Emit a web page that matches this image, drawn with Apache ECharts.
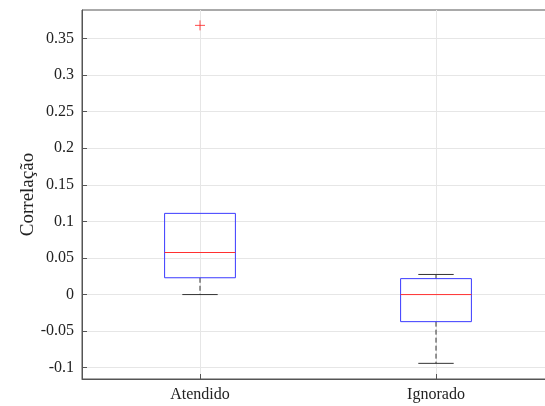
<!DOCTYPE html>
<html>
<head>
<meta charset="utf-8">
<script src="https://cdn.jsdelivr.net/npm/echarts@6/dist/echarts.min.js"></script>
<style>
  html, body { margin: 0; padding: 0; background: #fff; }
  #chart { width: 545px; height: 406px; }
</style>
</head>
<body>
<div id="chart"></div>
<script>
const categories = ['Atendido', 'Ignorado'];
// whisker ends, quartiles and medians
const lowerWhisker = [0, -0.094];
const q1 = [0.023, -0.037];
const median = [0.0575, 0];
const q3 = [0.111, 0.0218];
const upperWhisker = [0.111, 0.0275];
const outliers = [[0, 0.368]];
const yTicks = [-0.1, -0.05, 0, 0.05, 0.1, 0.15, 0.2, 0.25, 0.3, 0.35];

const boxData = categories.map((c, i) => [i, lowerWhisker[i], q1[i], median[i], q3[i], upperWhisker[i]]);

const chart = echarts.init(document.getElementById('chart'));
const font = '"Liberation Serif", "Times New Roman", serif';

chart.setOption({
    animation: false,
    grid: {
        left: 82, top: 10, width: 472, height: 369,
        outerBoundsMode: 'none',
        show: true, borderColor: '#555', borderWidth: 1
    },
    xAxis: {
        type: 'category',
        data: categories,
        boundaryGap: true,
        axisLine: { onZero: false, lineStyle: { color: '#555' } },
        axisTick: { show: true, inside: true, alignWithLabel: true, length: 5, lineStyle: { color: '#555' } },
        axisLabel: { color: '#222', fontFamily: font, fontSize: 16, margin: 8 },
        splitLine: { show: true, alignWithLabel: true, lineStyle: { color: '#e6e6e6' } }
    },
    yAxis: {
        type: 'value',
        min: -0.1154,
        max: 0.389,
        name: 'Correlação',
        nameLocation: 'middle',
        nameGap: 44,
        nameMoveOverlap: false,
        nameTextStyle: { color: '#222', fontFamily: font, fontSize: 19 },
        axisLine: { show: true, lineStyle: { color: '#555' } },
        axisTick: { show: true, inside: true, length: 5, customValues: yTicks, lineStyle: { color: '#555' } },
        axisLabel: { color: '#222', fontFamily: font, fontSize: 16, margin: 8, customValues: yTicks },
        splitLine: { show: true, customValues: yTicks, lineStyle: { color: '#e6e6e6' } }
    },
    series: [{
        type: 'custom',
        data: boxData,
        renderItem: (params, api) => {
            const idx = api.value(0);
            const band = api.size([1, 0])[0];
            const halfBox = band * 0.15;
            const halfCap = band * 0.075;
            const pLo = api.coord([idx, api.value(1)]);
            const pQ1 = api.coord([idx, api.value(2)]);
            const pMed = api.coord([idx, api.value(3)]);
            const pQ3 = api.coord([idx, api.value(4)]);
            const pHi = api.coord([idx, api.value(5)]);
            const x = pQ1[0];
            const dash = { stroke: '#333', lineWidth: 1, lineDash: [5, 3] };
            const cap = { stroke: '#333', lineWidth: 1 };
            const children = [];
            if (pLo[1] - pQ1[1] > 0.5) {
                children.push({ type: 'line', shape: { x1: x, y1: pQ1[1], x2: x, y2: pLo[1] }, style: dash });
                children.push({ type: 'line', shape: { x1: x - halfCap, y1: pLo[1], x2: x + halfCap, y2: pLo[1] }, style: cap });
            }
            if (pQ3[1] - pHi[1] > 0.5) {
                children.push({ type: 'line', shape: { x1: x, y1: pQ3[1], x2: x, y2: pHi[1] }, style: dash });
                children.push({ type: 'line', shape: { x1: x - halfCap, y1: pHi[1], x2: x + halfCap, y2: pHi[1] }, style: cap });
            }
            children.push({ type: 'rect', shape: { x: x - halfBox, y: pQ3[1], width: halfBox * 2, height: pQ1[1] - pQ3[1] },
                style: { fill: 'none', stroke: '#3a3aff', lineWidth: 1 } });
            children.push({ type: 'line', shape: { x1: x - halfBox, y1: pMed[1], x2: x + halfBox, y2: pMed[1] },
                style: { stroke: '#ff3030', lineWidth: 1 } });
            return { type: 'group', children };
        }
    }, {
        type: 'scatter',
        data: outliers,
        symbol: 'path://M0,5 L10,5 M5,0 L5,10',
        symbolSize: 10,
        itemStyle: { color: 'none', borderColor: '#ff2020', borderWidth: 1 }
    }]
});
</script>
</body>
</html>
